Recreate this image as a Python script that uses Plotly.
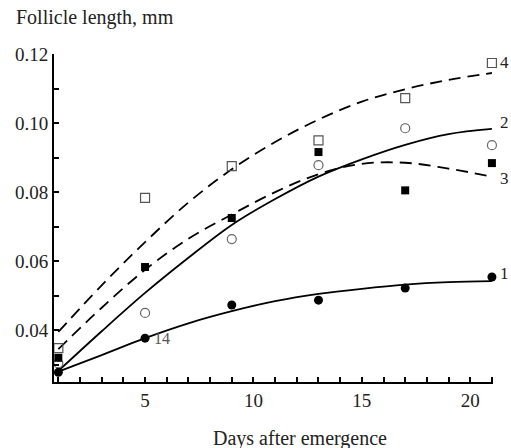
import plotly.graph_objects as go

# Measurement days and observed follicle lengths (mm)
days = [1, 5, 9, 13, 17, 21]
obs_1 = [0.0278, 0.0377, 0.0473, 0.0487, 0.0522, 0.0554]   # filled circles
obs_2 = [0.0304, 0.0450, 0.0664, 0.0878, 0.0985, 0.0936]   # open circles
obs_3 = [0.0320, 0.0583, 0.0725, 0.0916, 0.0805, 0.0884]   # filled squares
obs_4 = [0.0348, 0.0783, 0.0875, 0.0950, 0.1072, 0.1174]   # open squares

# Fitted growth curves
fit_days = [1, 3, 5, 7, 9, 11, 13, 15, 17, 19, 21]
fit_1 = [0.0280, 0.0328, 0.0377, 0.0420, 0.0455, 0.0484, 0.0505, 0.0520, 0.0532, 0.0539, 0.0542]
fit_2 = [0.0282, 0.0397, 0.0508, 0.0610, 0.0705, 0.0780, 0.0845, 0.0895, 0.0937, 0.0968, 0.0983]
fit_3 = [0.0345, 0.0465, 0.0575, 0.0665, 0.0735, 0.0800, 0.0852, 0.0882, 0.0885, 0.0868, 0.0845]
fit_4 = [0.0395, 0.0530, 0.0655, 0.0770, 0.0866, 0.0945, 0.1010, 0.1062, 0.1098, 0.1125, 0.1145]

curve_labels = ["1", "2", "3", "4"]
label_y = [0.0565, 0.1003, 0.0838, 0.1175]

serif = "Liberation Serif"
ink = "#222"
fig = go.Figure()

line_style = dict(color="black", width=1.8)
dash_style = dict(color="black", width=1.8, dash="12px,7px")
for ys, ln in [(fit_1, line_style), (fit_2, line_style), (fit_3, dash_style), (fit_4, dash_style)]:
    fig.add_trace(go.Scatter(x=fit_days, y=ys, mode="lines", line=dict(shape="spline", **ln),
                             showlegend=False, hoverinfo="skip"))

fig.add_trace(go.Scatter(x=days, y=obs_4, mode="markers", cliponaxis=False,
                         marker=dict(symbol="square-open", size=9, color="#555", line=dict(width=1.2))))
fig.add_trace(go.Scatter(x=days, y=obs_2, mode="markers", cliponaxis=False,
                         marker=dict(symbol="circle-open", size=9, color="#666", line=dict(width=1.2))))
fig.add_trace(go.Scatter(x=days, y=obs_3, mode="markers", cliponaxis=False,
                         marker=dict(symbol="square", size=8, color="black")))
fig.add_trace(go.Scatter(x=days, y=obs_1, mode="markers", cliponaxis=False,
                         marker=dict(symbol="circle", size=9, color="black")))

# curve numbers just right of the plot area
for lab, yv in zip(curve_labels, label_y):
    fig.add_annotation(x=1.0, y=yv, xref="paper", yref="y", xshift=5, text=lab, showarrow=False,
                       xanchor="left", font=dict(family=serif, size=17, color=ink))
fig.add_annotation(x=5.3, y=obs_1[1], text="14", showarrow=False, xanchor="left",
                   font=dict(family=serif, size=16, color="#555"))

fig.add_annotation(x=0, y=1, xref="paper", yref="paper", xshift=-40, yshift=23,
                   text="Follicle length, mm", showarrow=False, xanchor="left", yanchor="bottom",
                   font=dict(family=serif, size=20, color=ink))
fig.add_annotation(x=0.56, y=0, xref="paper", yref="paper", yshift=-43,
                   text="Days after emergence", showarrow=False, yanchor="top",
                   font=dict(family=serif, size=20, color=ink))

axis_common = dict(showline=True, linecolor="black", linewidth=2, showgrid=False, zeroline=False,
                   ticks="inside", ticklen=5, tickwidth=1.5, tickcolor="black",
                   tickfont=dict(family=serif, size=19, color=ink))
fig.update_xaxes(range=[0.8, 21.05], tickmode="array", tickvals=list(range(1, 22)),
                 ticktext=[str(v) if v % 5 == 0 else "" for v in range(1, 22)], **axis_common)
fig.update_yaxes(range=[0.025, 0.12], tickmode="array",
                 tickvals=[0.03, 0.04, 0.05, 0.06, 0.07, 0.08, 0.09, 0.10, 0.11, 0.12],
                 ticktext=["", "0.04", "", "0.06", "", "0.08", "", "0.10", "", "0.12"], **axis_common)

fig.update_layout(width=511, height=448, margin=dict(l=54, r=18, t=54, b=66),
                  plot_bgcolor="white", paper_bgcolor="white", showlegend=False)

fig.write_html("out.html")
